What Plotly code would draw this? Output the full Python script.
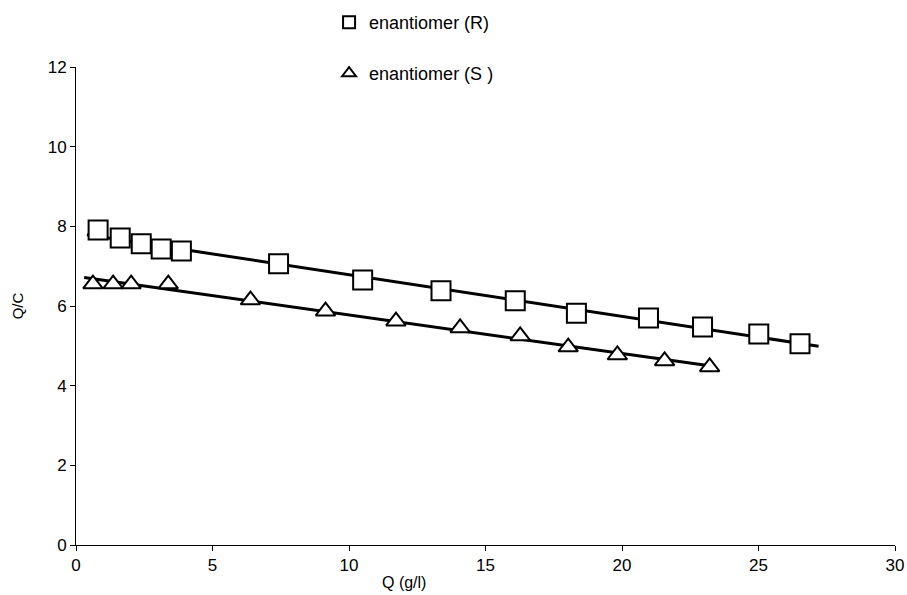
import numpy as np
import plotly.graph_objects as go

# Q (g/l) and Q/C for each enantiomer
q_R = [0.81, 1.62, 2.39, 3.12, 3.86, 7.42, 10.50, 13.37, 16.09, 18.33, 20.97, 22.95, 25.01, 26.52]
qc_R = [7.91, 7.71, 7.56, 7.43, 7.38, 7.06, 6.65, 6.38, 6.13, 5.82, 5.70, 5.47, 5.30, 5.05]

q_S = [0.62, 1.36, 2.02, 3.38, 6.39, 9.14, 11.72, 14.07, 16.27, 18.03, 19.83, 21.56, 23.21]
qc_S = [6.55, 6.55, 6.55, 6.55, 6.15, 5.87, 5.62, 5.45, 5.25, 4.97, 4.77, 4.62, 4.47]

# x extent of each fitted line
fit_range_R = [0.4, 27.2]
fit_range_S = [0.3, 23.4]

x_ticks = [0, 5, 10, 15, 20, 25, 30]
y_ticks = [0, 2, 4, 6, 8, 10, 12]

FONT = "Liberation Sans, Arial, sans-serif"

# figure geometry (px): the axes box spans rows PLOT_TOP..PLOT_BOTTOM,
# the space above it holds the two legend rows
FIG_H = 595
PLOT_TOP = 67
PLOT_BOTTOM = 545
PAPER_H = PLOT_BOTTOM  # top margin is zero, so paper spans 0..PLOT_BOTTOM


def paper_y(px):
    return (PLOT_BOTTOM - px) / PAPER_H


def linear_fit(x, y, span):
    slope, intercept = np.polyfit(x, y, 1)
    xs = np.array(span)
    return xs, slope * xs + intercept


fig = go.Figure()

for xs_data, ys_data, span in [(q_R, qc_R, fit_range_R), (q_S, qc_S, fit_range_S)]:
    lx, ly = linear_fit(xs_data, ys_data, span)
    fig.add_trace(go.Scatter(
        x=lx, y=ly, mode="lines",
        line=dict(color="black", width=3),
        showlegend=False, hoverinfo="skip",
    ))

fig.add_trace(go.Scatter(
    x=q_R, y=qc_R, mode="markers", name="enantiomer (R)", legend="legend",
    marker=dict(symbol="square", size=19, color="white",
                line=dict(color="black", width=2)),
))
fig.add_trace(go.Scatter(
    x=q_S, y=qc_S, mode="markers", name="enantiomer (S )", legend="legend2",
    marker=dict(symbol="triangle-up", size=17, color="white",
                line=dict(color="black", width=2)),
))

axis_common = dict(
    showgrid=False, zeroline=False, showline=True, automargin=False,
    linecolor="black", linewidth=1,
    ticks="outside", ticklen=5, tickcolor="black", tickwidth=1,
    tickfont=dict(family=FONT, size=17, color="black"),
)

legend_common = dict(
    x=0.309, xanchor="left", yanchor="top",
    font=dict(family=FONT, size=18, color="black"),
    bgcolor="rgba(0,0,0,0)", itemsizing="constant",
)

fig.update_layout(
    width=907, height=FIG_H,
    margin=dict(l=76, r=12, t=0, b=FIG_H - PLOT_BOTTOM),
    paper_bgcolor="white", plot_bgcolor="white",
    font=dict(family=FONT, color="black"),
    xaxis=dict(range=[0, 30], tickvals=x_ticks, **axis_common),
    yaxis=dict(range=[0, 12], tickvals=y_ticks, domain=[0, paper_y(PLOT_TOP)],
               title=dict(text="Q/C", font=dict(family=FONT, size=15), standoff=20),
               **axis_common),
    legend=dict(y=paper_y(4), **legend_common),
    legend2=dict(y=paper_y(55), **legend_common),
    annotations=[dict(
        text="Q (g/l)", xref="x", yref="paper", x=12.0, y=0,
        yshift=-37, showarrow=False, xanchor="center", yanchor="middle",
        font=dict(family=FONT, size=16, color="black"),
    )],
)

fig.write_html("out.html")
